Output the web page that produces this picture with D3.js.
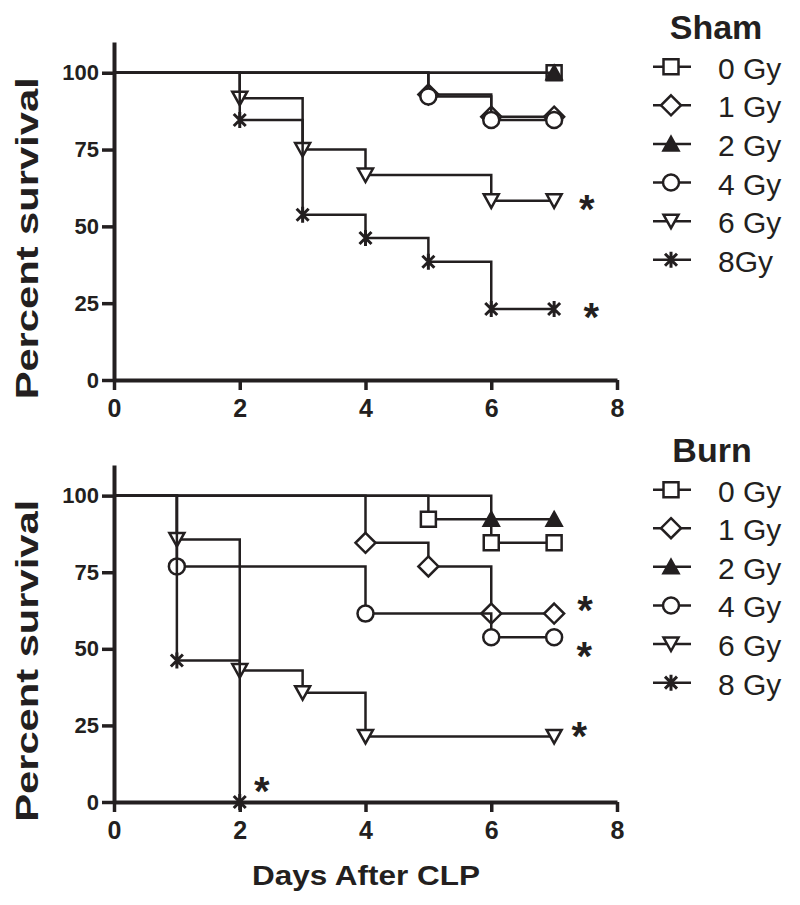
<!DOCTYPE html>
<html>
<head>
<meta charset="utf-8">
<script src="https://cdn.jsdelivr.net/npm/d3@7"></script>
<style>
	body { margin: 0; background: #fff; }
	svg text { font-family: "Liberation Sans", Arial, sans-serif; fill: #231f20; }
	.axisLabel { font-weight: bold; }
	.tick text { font-weight: bold; }
</style>
</head>
<body>
<svg class="chart" width="800" height="905"></svg>
<script>
var ink = "#231f20";

var dayTicks = [0, 2, 4, 6, 8];
var percentTicks = [0, 25, 50, 75, 100];
var markerTypes = ["square", "diamond", "triangleUp", "circle", "triangleDown", "asterisk"];

//Sham panel
var shamLegend = ["0 Gy", "1 Gy", "2 Gy", "4 Gy", "6 Gy", "8Gy"];
var shamDays = [[7], [5, 6, 7], [7], [5, 6, 7], [2, 3, 4, 6, 7], [2, 3, 4, 5, 6, 7]];
var shamSurvival = [[100], [92.9, 85.7, 85.7], [100], [92.3, 84.6, 84.6], [91.7, 75, 66.7, 58.3, 58.3], [84.6, 53.8, 46.2, 38.5, 23.1, 23.1]];
var shamStarDay = [7.52, 7.59];
var shamStarPct = [58.8, 23.5];

//Burn panel
var burnLegend = ["0 Gy", "1 Gy", "2 Gy", "4 Gy", "6 Gy", "8 Gy"];
var burnDays = [[5, 6, 7], [4, 5, 6, 7], [6, 7], [1, 4, 6, 7], [1, 2, 3, 4, 7], [1, 2]];
var burnSurvival = [[92.3, 84.6, 84.6], [84.6, 76.9, 61.5, 61.5], [92.3, 92.3], [76.9, 61.5, 53.8, 53.8], [85.7, 42.9, 35.7, 21.4, 21.4], [46.2, 0]];
var burnStarDay = [7.49, 7.48, 7.40, 2.35];
var burnStarPct = [65.8, 50.8, 24.5, 6.5];

var chart = d3.select(".chart");
var x = d3.scaleLinear().domain([0, 8]).range([114, 617]);

function markerPath(type) {
	switch (type) {
		case "square": return "M-7.5,-7.5H7.5V7.5H-7.5Z";
		case "diamond": return "M0,-10L10,0L0,10L-10,0Z";
		case "triangleUp": return "M0,-7L7.5,6.5H-7.5Z";
		case "circle": return "M8,0A8,8 0 1,1 -8,0A8,8 0 1,1 8,0Z";
		case "triangleDown": return "M-7.5,-6.5H7.5L0,7Z";
		case "asterisk": return "M0,-8V8M-6,-6L6,6M-6,6L6,-6";
	}
}

function drawMarker(g, type, cx, cy) {
	g.append("path")
	 .attr("d", markerPath(type))
	 .attr("transform", "translate(" + cx + "," + cy + ")")
	 .attr("fill", type == "triangleUp" ? ink : (type == "asterisk" ? "none" : "#fff"))
	 .attr("stroke", ink)
	 .attr("stroke-width", type == "asterisk" ? 3 : 2.5)
	 .attr("stroke-linejoin", "miter");
}

function buildPanel(bottomY, topY, title, legendLabels, days, survival, starDay, starPct, titleX) {
	var y = d3.scaleLinear().domain([0, 110]).range([bottomY, topY]);
	var g = chart.append("g");

	//Add axes
	var xAxis = g.append("g")
		.attr("transform", "translate(0," + y(0) + ")")
		.call(d3.axisBottom(x).tickValues(dayTicks).tickSize(10).tickPadding(9).tickSizeOuter(0));
	xAxis.selectAll("text").style("font-size", "25px");

	var yAxis = g.append("g")
		.attr("transform", "translate(" + x(0) + ",0)")
		.call(d3.axisLeft(y).tickValues(percentTicks).tickSize(12).tickPadding(3).tickSizeOuter(0));
	yAxis.selectAll("text").style("font-size", "22px");

	g.selectAll(".domain").attr("stroke", ink).attr("stroke-width", 4);
	g.selectAll(".tick line").attr("stroke", ink).attr("stroke-width", 3.5);

	//Add Text label for the y-axis
	g.append("text")
	 .attr("transform", "rotate(-90)")
	 .attr("x", -(y(50) + 12))
	 .attr("y", 38)
	 .attr("class", "axisLabel")
	 .attr("text-anchor", "middle")
	 .attr("textLength", 322)
	 .attr("lengthAdjust", "spacingAndGlyphs")
	 .style("font-size", "31px")
	 .text("Percent survival");

	//Survival curves, each followed by its markers
	var line = d3.line()
		.x(function(d) { return x(d[0]); })
		.y(function(d) { return y(d[1]); })
		.curve(d3.curveStepAfter);

	for (var i = 0; i < days.length; i++) {
		var pts = [[0, 100]];
		for (var j = 0; j < days[i].length; j++) pts.push([days[i][j], survival[i][j]]);
		g.append("path")
		 .attr("d", line(pts))
		 .attr("fill", "none")
		 .attr("stroke", ink)
		 .attr("stroke-width", 2.5);
		for (var k = 1; k < pts.length; k++) {
			drawMarker(g, markerTypes[i], x(pts[k][0]), y(pts[k][1]));
		}
	}

	//Significance stars
	for (var s = 0; s < starDay.length; s++) {
		g.append("text")
		 .attr("x", x(starDay[s]))
		 .attr("y", y(starPct[s]))
		 .attr("dy", "0.58em")
		 .attr("text-anchor", "middle")
		 .style("font-size", "40px")
		 .style("font-weight", "bold")
		 .text("*");
	}

	//Legend
	g.append("text")
	 .attr("x", titleX)
	 .attr("y", y(100) - 34)
	 .attr("text-anchor", "middle")
	 .attr("class", "axisLabel")
	 .style("font-size", "34px")
	 .text(title);

	for (var r = 0; r < legendLabels.length; r++) {
		var ry = y(100) - 6 + r * 38.6;
		g.append("line")
		 .attr("x1", 653).attr("x2", 691)
		 .attr("y1", ry).attr("y2", ry)
		 .attr("stroke", ink).attr("stroke-width", 2.5);
		drawMarker(g, markerTypes[r], 671, ry);
		g.append("text")
		 .attr("x", 718)
		 .attr("y", ry + 12)
		 .style("font-size", "30px")
		 .text(legendLabels[r]);
	}
}

buildPanel(380, 42, "Sham", shamLegend, shamDays, shamSurvival, shamStarDay, shamStarPct, 716);
buildPanel(802, 465, "Burn", burnLegend, burnDays, burnSurvival, burnStarDay, burnStarPct, 712);

//Add text label for x-axis
chart.append("text")
	 .attr("x", 366)
	 .attr("y", 885)
	 .attr("text-anchor", "middle")
	 .attr("class", "axisLabel")
	 .attr("textLength", 228)
	 .attr("lengthAdjust", "spacingAndGlyphs")
	 .style("font-size", "28px")
	 .text("Days After CLP");
</script>
</body>
</html>
